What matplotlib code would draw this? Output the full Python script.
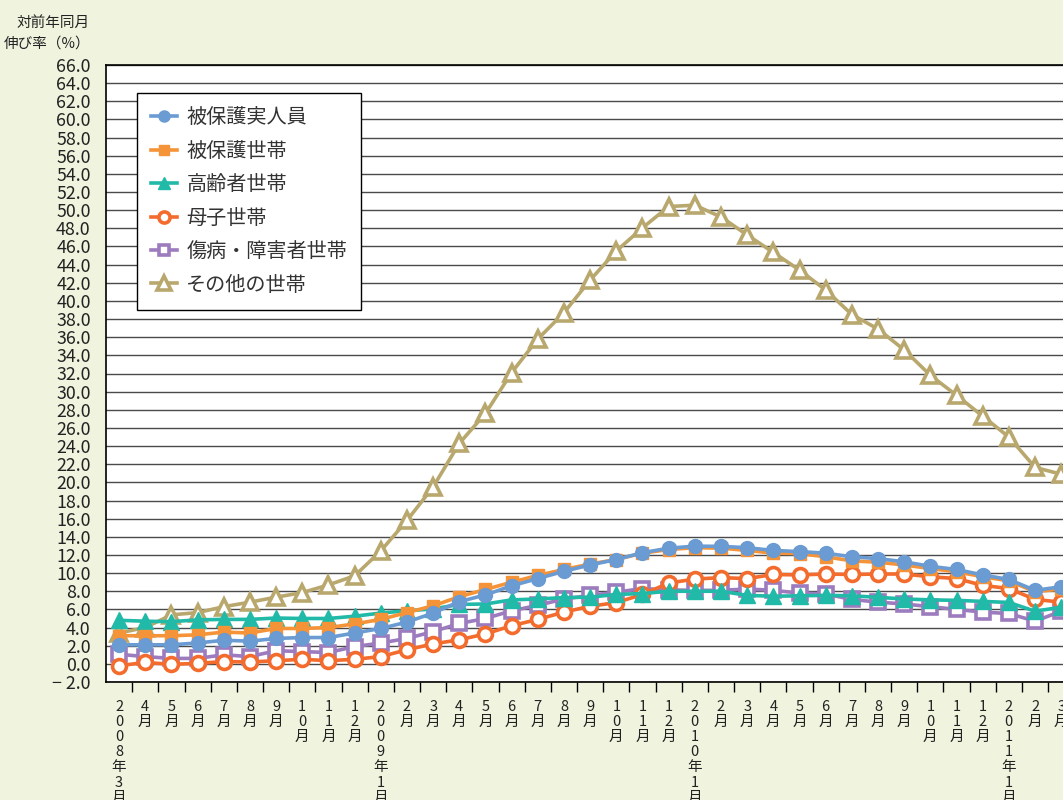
import matplotlib
matplotlib.use("Agg")
import matplotlib.pyplot as plt
from matplotlib.ticker import FixedLocator

plt.rcParams['font.family'] = ['Noto Sans CJK JP', 'DejaVu Sans']

# ---- data -------------------------------------------------------------
months = ["2008年3月", "4月", "5月", "6月", "7月", "8月", "9月", "10月", "11月", "12月",
          "2009年1月", "2月", "3月", "4月", "5月", "6月", "7月", "8月", "9月", "10月", "11月", "12月",
          "2010年1月", "2月", "3月", "4月", "5月", "6月", "7月", "8月", "9月", "10月", "11月", "12月",
          "2011年1月", "2月", "3月"]

hogo_jinin = [2.1, 2.1, 2.1, 2.3, 2.6, 2.5, 2.8, 2.9, 2.9, 3.4, 3.9, 4.6,
              5.6, 6.85, 7.6, 8.6, 9.4, 10.2, 10.9, 11.5, 12.25, 12.75,
              12.97, 12.95, 12.8, 12.5, 12.37, 12.2, 11.8, 11.6, 11.25, 10.75, 10.4, 9.8,
              9.3, 8.1, 8.5]
hogo_setai = [3.1, 3.1, 3.1, 3.2, 3.5, 3.4, 3.9, 3.9, 4.0, 4.4, 4.9, 5.65,
              6.4, 7.4, 8.2, 9.0, 9.75, 10.4, 11.0, 11.5, 12.2, 12.6,
              12.8, 12.75, 12.5, 12.2, 12.15, 11.8, 11.35, 11.2, 10.9, 10.5, 10.15, 9.6,
              9.15, 7.95, 8.25]
koreisha = [4.8, 4.7, 4.65, 4.85, 4.9, 4.9, 5.05, 5.0, 5.0, 5.25, 5.6, 5.85,
            6.05, 6.55, 6.6, 7.05, 7.15, 7.3, 7.35, 7.65, 7.75, 8.0,
            8.0, 8.0, 7.55, 7.45, 7.5, 7.55, 7.5, 7.33, 7.15, 7.05, 7.0, 6.88,
            6.77, 5.8, 6.25]
boshi = [-0.2, 0.15, -0.05, 0.05, 0.25, 0.2, 0.35, 0.5, 0.35, 0.5, 0.8, 1.55,
         2.2, 2.65, 3.3, 4.2, 4.9, 5.7, 6.35, 6.75, 7.65, 8.9,
         9.35, 9.5, 9.4, 9.85, 9.8, 9.9, 9.85, 9.9, 9.9, 9.6, 9.4, 8.65,
         8.3, 7.1, 6.8]
shobyo = [1.05, 0.8, 0.6, 0.6, 1.0, 0.8, 1.45, 1.35, 1.25, 1.9, 2.3, 2.8,
          3.55, 4.45, 5.0, 5.85, 6.45, 7.15, 7.55, 7.9, 8.3, 8.15,
          8.1, 8.1, 8.25, 8.1, 7.8, 7.7, 7.1, 6.8, 6.6, 6.3, 6.0, 5.7,
          5.55, 4.7, 5.8]
sonota = [3.4, 4.0, 5.4, 5.65, 6.3, 6.8, 7.35, 7.85, 8.7, 9.7, 12.45, 15.8,
          19.5, 24.3, 27.6, 32.1, 35.8, 38.7, 42.3, 45.5, 48.05, 50.4,
          50.55, 49.25, 47.27, 45.34, 43.4, 41.2, 38.5, 36.9, 34.6, 31.8, 29.6, 27.3,
          25.0, 21.65, 20.9]

series_names = ["被保護実人員", "被保護世帯", "高齢者世帯", "母子世帯", "傷病・障害者世帯", "その他の世帯"]
y_ticks = [v * 2.0 for v in range(-1, 34)]

# ---- styling ----------------------------------------------------------
bg = '#F0F4DE'
styles = [
    dict(color='#6A9BD3', marker='o', mfc='#6A9BD3', mec='#6A9BD3', ms=10, mew=1),
    dict(color='#F59338', marker='s', mfc='#F59338', mec='#F59338', ms=9, mew=1),
    dict(color='#21B9A7', marker='^', mfc='#21B9A7', mec='#21B9A7', ms=11, mew=1),
    dict(color='#F36C2E', marker='o', mfc='white', mec='#F36C2E', ms=10, mew=2.6),
    dict(color='#9C7BBE', marker='s', mfc='white', mec='#9C7BBE', ms=9.5, mew=2.6),
    dict(color='#B9A86E', marker='^', mfc='white', mec='#B9A86E', ms=12, mew=2.6),
]
data = [hogo_jinin, hogo_setai, koreisha, boshi, shobyo, sonota]

W, H = 1063, 800
fig = plt.figure(figsize=(W / 100, H / 100), dpi=100, facecolor=bg)
left_px, right_px, top_px, bot_px = 106, 106 + 37 * 26.17, 65, 682
ax = fig.add_axes([left_px / W, 1 - bot_px / H, (right_px - left_px) / W, (bot_px - top_px) / H])
ax.set_facecolor('white')

x = list(range(len(months)))
lines = []
for i, (vals, st, name) in enumerate(zip(data, styles, series_names)):
    ln, = ax.plot(x, vals, lw=2.6, label=name, zorder=10 - i, clip_on=False, **st)
    lines.append(ln)

ax.set_xlim(-0.5, len(months) - 0.5)
ax.set_ylim(-2, 66)
ax.yaxis.set_major_locator(FixedLocator(y_ticks))
ax.set_yticklabels([("−\u00a0" + f"{abs(v):.1f}") if v < 0 else f"{v:.1f}" for v in y_ticks])
ax.grid(axis='y', color='#4a4a4a', lw=1.0, zorder=1)
ax.set_axisbelow(True)
ax.tick_params(axis='y', length=0, pad=11, labelsize=12.8, labelcolor='#222222')

ax.set_xticks(x)
ax.set_xticklabels(["\n".join(list(m)) for m in months], fontsize=10.5, linespacing=1.1,
                   color='#222222', va='top')
ax.xaxis.set_minor_locator(FixedLocator([i + 0.5 for i in range(len(months))]))
ax.tick_params(axis='x', which='major', length=0, pad=13)
ax.tick_params(axis='x', which='minor', length=7, width=1, direction='out', color='black')

for s in ['left', 'bottom', 'top']:
    ax.spines[s].set_color('black')
    ax.spines[s].set_linewidth(1.2)
ax.spines['right'].set_visible(False)

leg = ax.legend(handles=lines, loc='upper left',
                bbox_to_anchor=(137 / W, 1 - 93 / H), bbox_transform=fig.transFigure,
                fontsize=14.5, frameon=True, fancybox=False, edgecolor='black',
                framealpha=1, handlelength=1.3, handletextpad=0.45, labelspacing=0.62,
                borderpad=0.7, borderaxespad=0, markerscale=0.8)
leg.get_frame().set_linewidth(1.0)
leg.set_zorder(20)
for t in leg.get_texts():
    t.set_color('#333333')

fig.text(90 / W, 1 - 16 / H, "対前年同月\n伸び率（%）", ha='right', va='top',
         fontsize=10.5, linespacing=1.6, color='#222222', multialignment='right')

fig.savefig("out.png", dpi=100, facecolor=bg)
